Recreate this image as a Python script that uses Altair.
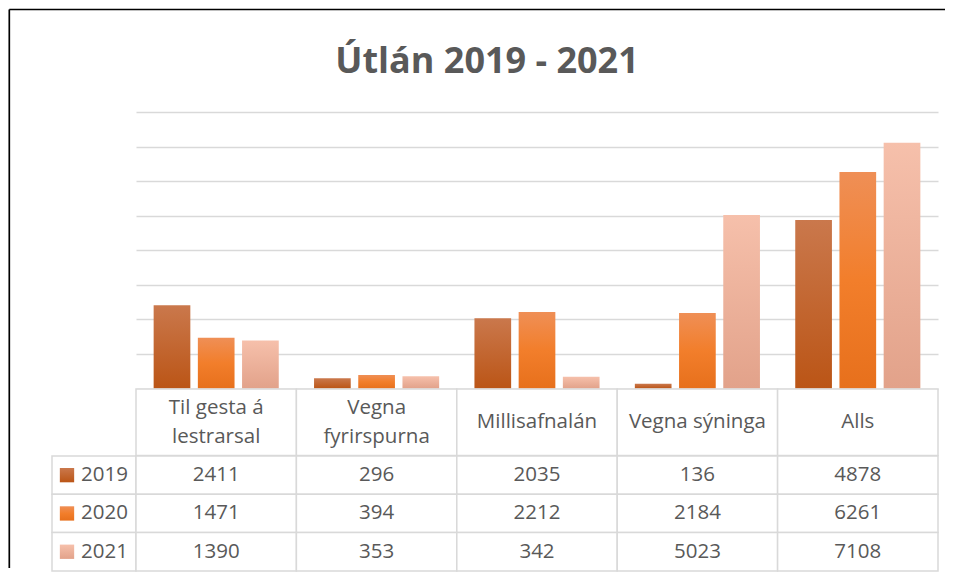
import altair as alt
import pandas as pd

title_text = "Útlán 2019 - 2021"
categories = ["Til gesta á lestrarsal", "Vegna fyrirspurna", "Millisafnalán", "Vegna sýninga", "Alls"]
header_labels = ["Til gesta á\nlestrarsal", "Vegna\nfyrirspurna", "Millisafnalán", "Vegna sýninga", "Alls"]
years = ["2019", "2020", "2021"]
values_2019 = [2411, 296, 2035, 136, 4878]
values_2020 = [1471, 394, 2212, 2184, 6261]
values_2021 = [1390, 353, 342, 5023, 7108]
grid_values = [0, 1000, 2000, 3000, 4000, 5000, 6000, 7000, 8000]

series = {"2019": values_2019, "2020": values_2020, "2021": values_2021}
rows = []
for yr in years:
    for c, v in zip(categories, series[yr]):
        rows.append({"category": c, "year": yr, "value": v})
df = pd.DataFrame(rows)
header_df = pd.DataFrame({"category": categories, "label": header_labels})
years_df = pd.DataFrame({"year": years})
one_df = pd.DataFrame({"k": [0]})
title_df = pd.DataFrame({"t": [title_text]})

TEXT = "#595959"
LINE = "#d9d9d9"
FONT = "Open Sans"
FS = 20.5
LH = 29.5
LEFT_W = 84
PLOT_W = 802
BAR_H = 276.5
HEAD_H = 66.5
ROW_H = 38.3
TITLE_H = 104
FX = -42.7   # frame x (relative)
FY = 1.5     # frame y (relative)


def grad(stops):
    return alt.LinearGradient(
        gradient="linear",
        stops=[alt.GradientStop(color=c, offset=o) for o, c in stops],
        x1=0, x2=0, y1=0, y2=1,
    )


grads = {
    "2019": grad([(0, "#ca784c"), (1, "#bb5516")]),
    "2020": grad([(0, "#ef8f56"), (0.5, "#f27e2b"), (1, "#e7701c")]),
    "2021": grad([(0, "#f6c0ab"), (1, "#e2a28a")]),
}


def spacer(w, h):
    return alt.Chart(one_df).mark_point(opacity=0, size=1).encode(
        x=alt.value(w / 2), y=alt.value(h / 2)).properties(width=w, height=h)


# ---------- title cell with frame ----------
frame_top = alt.Chart(one_df).mark_rule(color="black", strokeWidth=1.7).encode(
    x=alt.value(FX), x2=alt.value(893), y=alt.value(FY))
frame_left = alt.Chart(one_df).mark_rule(color="black", strokeWidth=1.7).encode(
    x=alt.value(FX), y=alt.value(FY), y2=alt.value(TITLE_H + BAR_H + HEAD_H + 3 * ROW_H - 2))
title_mark = alt.Chart(title_df).mark_text(
    font=FONT, fontSize=36, fontWeight="bold", color=TEXT, align="center", baseline="alphabetic"
).encode(text="t:N", x=alt.value(435), y=alt.value(64.5))
title_cell = alt.layer(frame_top, frame_left, title_mark).properties(width=LEFT_W, height=TITLE_H)

# ---------- bars ----------
xcat_bars = alt.X("category:N", sort=categories,
                  scale=alt.Scale(domain=categories, paddingInner=0.22, paddingOuter=0.11), axis=None)
xoff = alt.XOffset("year:N", scale=alt.Scale(domain=years, paddingInner=0.17, paddingOuter=0))
yval = alt.Y("value:Q", scale=alt.Scale(domain=[0, 8000], nice=False),
             axis=alt.Axis(values=grid_values, labels=False, ticks=False, domain=False, title=None,
                           grid=True, gridColor=LINE, gridWidth=1.4))
bar_layers = []
for yr in years:
    bar_layers.append(
        alt.Chart(df).transform_filter(alt.datum.year == yr).mark_bar(fill=grads[yr]).encode(
            x=xcat_bars, xOffset=xoff, y=yval)
    )
bars = alt.layer(*bar_layers).properties(width=PLOT_W, height=BAR_H)

# ---------- header row ----------
xcat_tab = alt.X("category:N", sort=categories,
                 scale=alt.Scale(domain=categories, paddingInner=0, paddingOuter=0), axis=None)
head_rect = alt.Chart(header_df).mark_rect(fill="white", stroke=LINE, strokeWidth=1.5).encode(
    x=xcat_tab, y=alt.value(0), y2=alt.value(HEAD_H))
has_break = "indexof(datum.label, '\\n') >= 0"
no_break = "indexof(datum.label, '\\n') < 0"
head_text1 = alt.Chart(header_df).transform_filter(no_break).mark_text(
    font=FONT, fontSize=FS, color=TEXT, baseline="middle"
).encode(x=xcat_tab, y=alt.value(HEAD_H / 2), text="label:N")
head_text2 = alt.Chart(header_df).transform_filter(has_break).mark_text(
    font=FONT, fontSize=FS, color=TEXT, lineBreak="\n", lineHeight=LH, baseline="middle"
).encode(x=xcat_tab, y=alt.value(HEAD_H / 2 - LH / 2), text="label:N")
header = alt.layer(head_rect, head_text1, head_text2).properties(width=PLOT_W, height=HEAD_H)

# ---------- data table ----------
yrow = alt.Y("year:N", sort=years, scale=alt.Scale(domain=years, paddingInner=0, paddingOuter=0), axis=None)
cell_rect = alt.Chart(df).mark_rect(fill="white", stroke=LINE, strokeWidth=1.5).encode(x=xcat_tab, y=yrow)
cell_text = alt.Chart(df).mark_text(font=FONT, fontSize=FS, color=TEXT, baseline="middle").encode(
    x=xcat_tab, y=yrow, text=alt.Text("value:Q", format="d"))
table = alt.layer(cell_rect, cell_text).properties(width=PLOT_W, height=3 * ROW_H)

leg_rect = alt.Chart(years_df).mark_rect(fill="white", stroke=LINE, strokeWidth=1.5).encode(
    x=alt.value(0), x2=alt.value(LEFT_W), y=yrow)
leg_sw = []
for yr in years:
    leg_sw.append(
        alt.Chart(years_df).transform_filter(alt.datum.year == yr).mark_square(
            size=205, fill=grads[yr], opacity=1).encode(x=alt.value(15), y=yrow)
    )
leg_text = alt.Chart(years_df).mark_text(font=FONT, fontSize=FS, color=TEXT, align="left",
                                         baseline="middle").encode(x=alt.value(29), y=yrow, text="year:N")
legend_col = alt.layer(leg_rect, *leg_sw, leg_text).properties(width=LEFT_W, height=3 * ROW_H)

chart = alt.concat(
    title_cell, spacer(PLOT_W, TITLE_H),
    spacer(LEFT_W, BAR_H), bars,
    spacer(LEFT_W, HEAD_H), header,
    legend_col, table,
    columns=2, spacing=0, bounds="flush",
).properties(padding=0, background="white").configure_view(strokeWidth=0)

chart.save("out.html", embed_options={"renderer": "svg", "actions": False})
